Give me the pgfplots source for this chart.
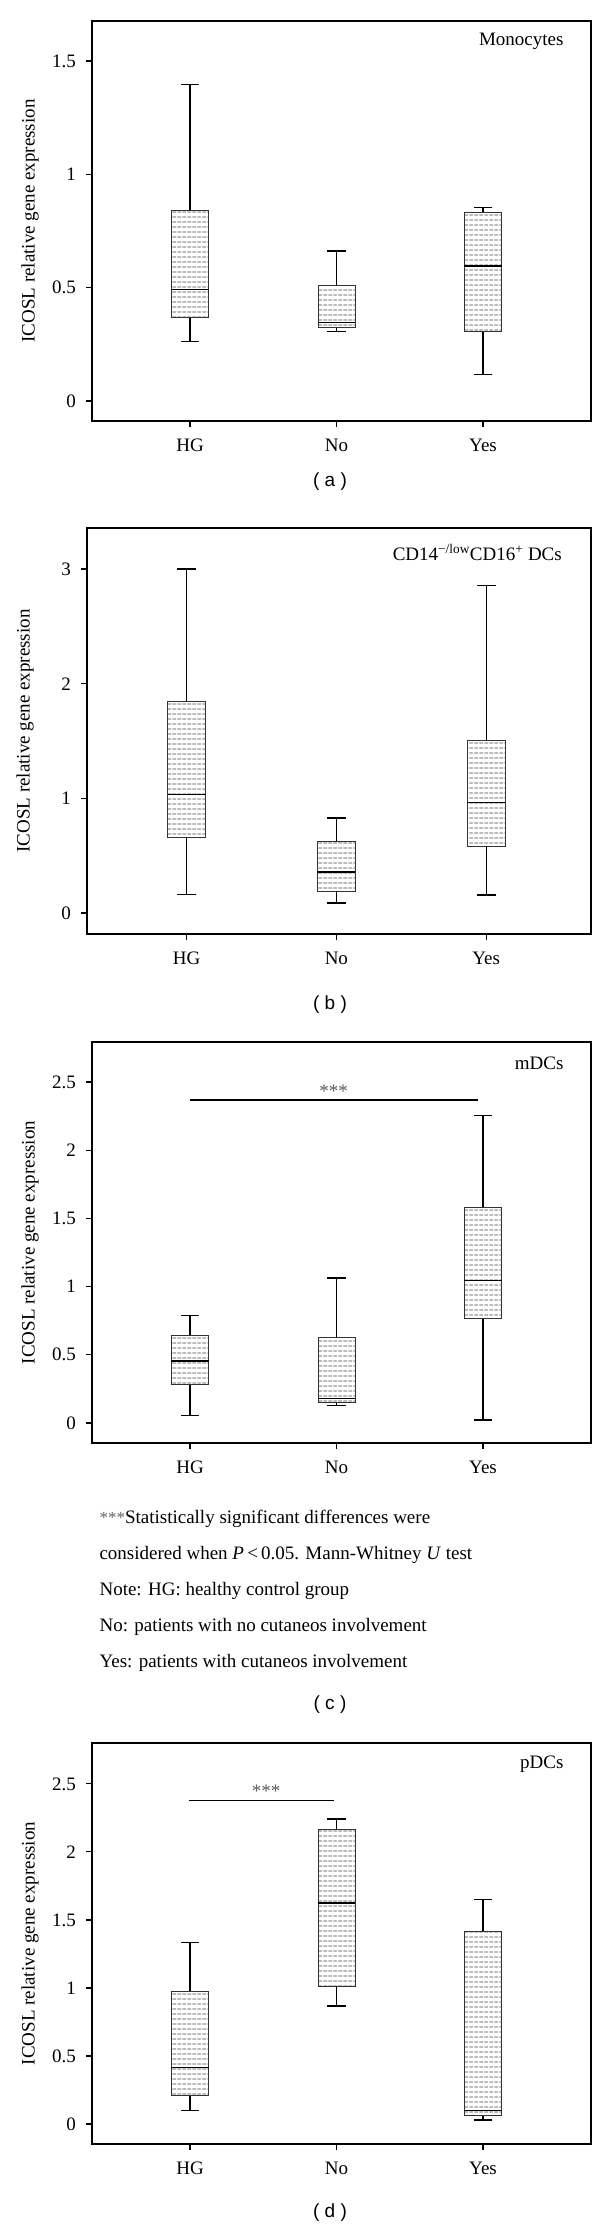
\documentclass[border=0pt]{standalone}
\usepackage{fontspec}
\setmainfont{Liberation Serif}
\newfontfamily\labelsans{Liberation Sans}
\usepackage{pgfplots}
\pgfplotsset{compat=1.18}
\usepgfplotslibrary{statistics}
\usetikzlibrary{patterns}

\pgfdeclarepatternformonly{dashhl}{\pgfqpoint{0bp}{0bp}}{\pgfqpoint{5.4bp}{4.5bp}}{\pgfqpoint{5.4bp}{4.5bp}}{%
  \pgfsetlinewidth{0.85bp}%
  \pgfpathmoveto{\pgfqpoint{0.5bp}{2.25bp}}%
  \pgfpathlineto{\pgfqpoint{4.4bp}{2.25bp}}%
  \pgfusepath{stroke}%
}

\pgfplotsset{
  panel/.style={
    anchor=north west, scale only axis, width=499bp,
    xmin=-0.669, xmax=2.737,
    xtick={0,1,2}, xticklabels={HG,No,Yes},
    xtick pos=left, ytick pos=left,
    tick align=outside, major tick length=6bp,
    axis line style={line width=1.2bp},
    every tick/.style={black, line width=1.2bp},
    xticklabel style={anchor=center, yshift=-18bp, inner sep=0pt},
    yticklabel style={anchor=east, xshift=-10bp, inner sep=0pt},
    ylabel={ICOSL relative gene expression},
    every axis y label/.style={at={(rel axis cs:0,0.5)}, rotate=90, anchor=center, yshift=62bp},
    clip=false,
    boxplot/draw direction=y,
    boxplot/box extend=0.253,
    boxplot/whisker extend=0.125,
    boxplot/every box/.style={draw=black!80, line width=0.8bp, pattern=dashhl, pattern color=black!75},
    boxplot/every whisker/.style={black, line width=1.2bp},
    boxplot/every median/.style={black, line width=1.3bp},
  },
  title/.style={anchor=east, at={(rel axis cs:0.958,#1)}},
}

\begin{document}
\fontsize{19bp}{23bp}\selectfont
\begin{tikzpicture}
\path[use as bounding box] (0,0) rectangle (600bp,-2231bp);

% ---------------- (a) Monocytes
\begin{axis}[panel, at={(92bp,-21bp)}, height=400bp,
  ymin=-0.088, ymax=1.676,
  ytick={0,0.5,1,1.5}, yticklabels={0,0.5,1,1.5}]
\addplot[black, boxplot prepared={lower whisker=0.261, lower quartile=0.368, median=0.492, upper quartile=0.839, upper whisker=1.397, draw position=0}] coordinates {};
\addplot[black, boxplot prepared={lower whisker=0.308, lower quartile=0.324, median=0.345, upper quartile=0.508, upper whisker=0.662, draw position=1}] coordinates {};
\addplot[black, boxplot prepared={lower whisker=0.118, lower quartile=0.305, median=0.596, upper quartile=0.832, upper whisker=0.855, draw position=2}] coordinates {};
\node[anchor=east] at (rel axis cs:0.958,0.95) {Monocytes};
\end{axis}
\node[font=\labelsans] at (330bp,-482bp) {( a )};

% ---------------- (b) CD14-/low CD16+ DCs
\begin{axis}[panel, at={(87bp,-528bp)}, width=504bp, height=406bp,
  xmin=-0.665, xmax=2.70,
  ymin=-0.183, ymax=3.358,
  ytick={0,1,2,3}, yticklabels={0,1,2,3}]
\addplot[black, boxplot prepared={lower whisker=0.160, lower quartile=0.659, median=1.031, upper quartile=1.844, upper whisker=3.0, draw position=0}] coordinates {};
\addplot[black, boxplot prepared={lower whisker=0.087, lower quartile=0.189, median=0.357, upper quartile=0.624, upper whisker=0.828, draw position=1}] coordinates {};
\addplot[black, boxplot prepared={lower whisker=0.157, lower quartile=0.578, median=0.964, upper quartile=1.504, upper whisker=2.855, draw position=2}] coordinates {};
\node[anchor=east] at (rel axis cs:0.955,0.94) {CD14\textsuperscript{−/low}CD16\textsuperscript{+} DCs};
\end{axis}
\node[font=\labelsans] at (330bp,-1005bp) {( b )};

% ---------------- (c) mDCs
\begin{axis}[panel, at={(92bp,-1042bp)}, height=401bp,
  ymin=-0.147, ymax=2.793,
  ytick={0,0.5,1,1.5,2,2.5}, yticklabels={0,0.5,1,1.5,2,2.5}]
\addplot[black, boxplot prepared={lower whisker=0.057, lower quartile=0.286, median=0.454, upper quartile=0.644, upper whisker=0.787, draw position=0}] coordinates {};
\addplot[black, boxplot prepared={lower whisker=0.127, lower quartile=0.149, median=0.181, upper quartile=0.625, upper whisker=1.063, draw position=1}] coordinates {};
\addplot[black, boxplot prepared={lower whisker=0.022, lower quartile=0.765, median=1.047, upper quartile=1.577, upper whisker=2.256, draw position=2}] coordinates {};
\addplot[black, line width=1.1bp, mark=none] coordinates {(0,2.368) (1.966,2.368)};
\node[text=black!65, font=\fontsize{19bp}{19bp}\selectfont] at (axis cs:0.98,2.43) {***};
\node[anchor=east] at (rel axis cs:0.958,0.948) {mDCs};
\end{axis}
\node[anchor=base west] at (93bp,-1523bp) {\textcolor{black!60}{\fontsize{17bp}{17bp}\selectfont ***}Statistically significant differences were};
\node[anchor=base west] at (93bp,-1559bp) {considered when \textit{P}\,<\,0.05. Mann-Whitney \textit{U} test};
\node[anchor=base west] at (93bp,-1595bp) {Note: HG: healthy control group};
\node[anchor=base west] at (93bp,-1631bp) {No: patients with no cutaneos involvement};
\node[anchor=base west] at (93bp,-1667bp) {Yes: patients with cutaneos involvement};
\node[font=\labelsans] at (330bp,-1705bp) {( c )};

% ---------------- (d) pDCs
\begin{axis}[panel, at={(92bp,-1743bp)}, height=401bp,
  ymin=-0.147, ymax=2.80,
  ytick={0,0.5,1,1.5,2,2.5}, yticklabels={0,0.5,1,1.5,2,2.5}]
\addplot[black, boxplot prepared={lower whisker=0.100, lower quartile=0.212, median=0.416, upper quartile=0.976, upper whisker=1.335, draw position=0}] coordinates {};
\addplot[black, boxplot prepared={lower whisker=0.867, lower quartile=1.008, median=1.624, upper quartile=2.164, upper whisker=2.241, draw position=1}] coordinates {};
\addplot[black, boxplot prepared={lower whisker=0.030, lower quartile=0.060, median=0.100, upper quartile=1.419, upper whisker=1.651, draw position=2}] coordinates {};
\addplot[black, line width=1.1bp, mark=none] coordinates {(-0.01,2.375) (0.98,2.375)};
\node[text=black!65, font=\fontsize{19bp}{19bp}\selectfont] at (axis cs:0.52,2.445) {***};
\node[anchor=east] at (rel axis cs:0.958,0.948) {pDCs};
\end{axis}
\node[font=\labelsans] at (330bp,-2213bp) {( d )};
\end{tikzpicture}
\end{document}
